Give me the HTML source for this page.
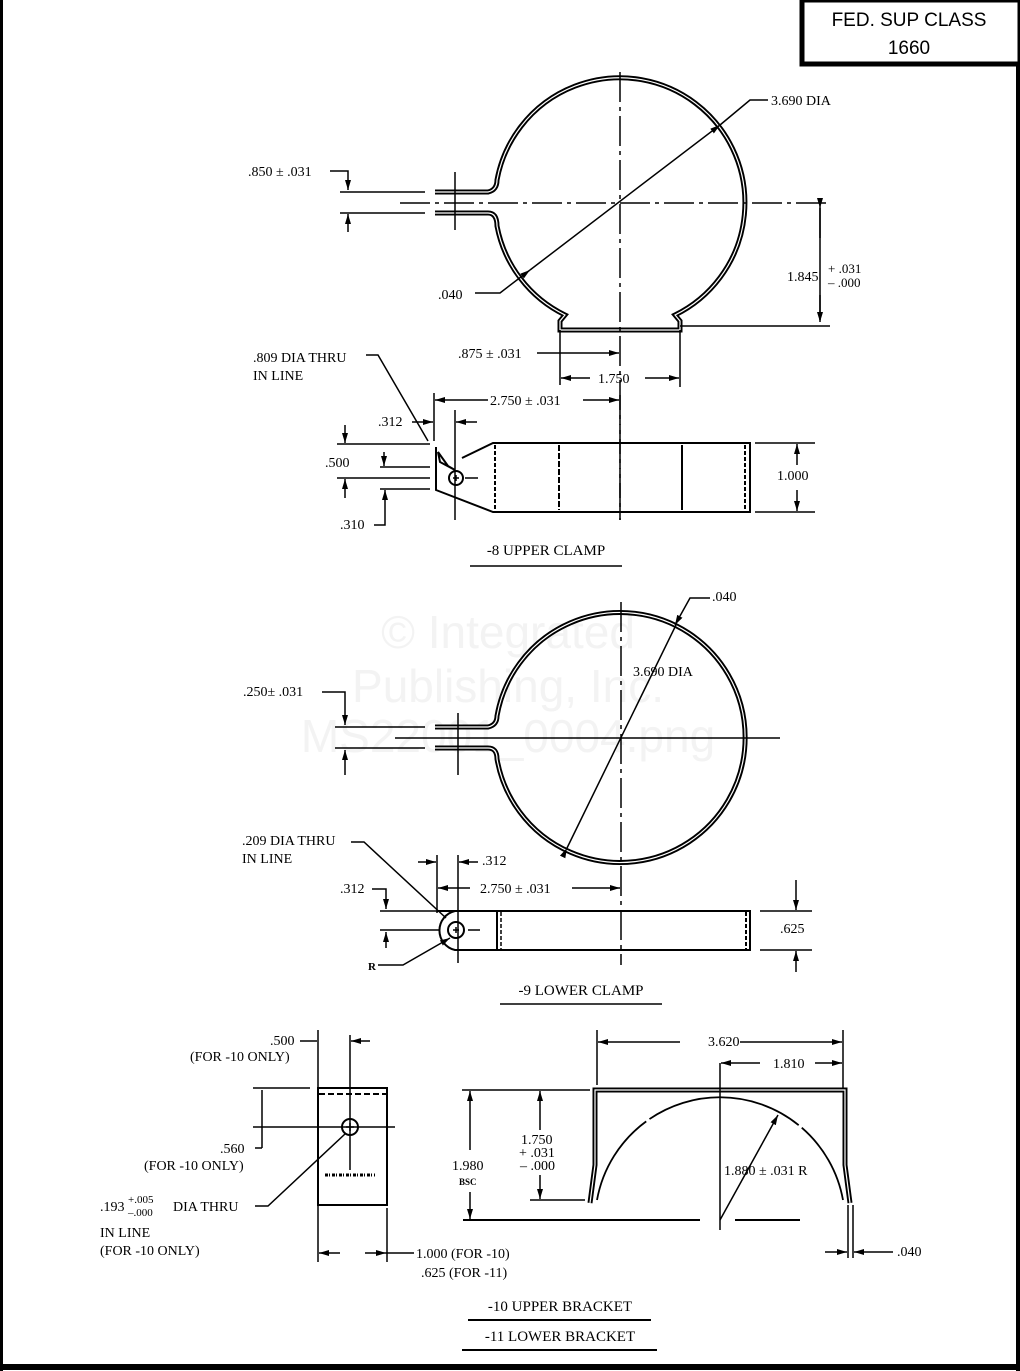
<!DOCTYPE html>
<html><head><meta charset="utf-8"><style>
html,body{margin:0;padding:0;background:#fff}
svg{display:block}
text{font-family:"Liberation Serif",serif;font-size:14px;fill:#000}
.s{font-family:"Liberation Sans",sans-serif;font-size:19px}
.wm{font-family:"Liberation Sans",sans-serif;font-size:46px;fill:#f3f3f3}
</style></head><body>
<svg width="1020" height="1371" viewBox="0 0 1020 1371" xmlns="http://www.w3.org/2000/svg">
<defs>
<marker id="a" viewBox="0 0 10 6" refX="10" refY="3" markerWidth="10" markerHeight="6" orient="auto" markerUnits="userSpaceOnUse"><path d="M0,0L10,3L0,6z" fill="#000"/></marker>
</defs>
<rect x="0" y="0" width="3" height="1371" fill="#000"/>
<rect x="1016" y="0" width="4" height="1371" fill="#000"/>
<rect x="0" y="1364" width="1020" height="6" fill="#000"/>
<rect x="802" y="0" width="218" height="64" fill="#fff" stroke="#000" stroke-width="5"/>
<text class="s" x="909" y="26" text-anchor="middle">FED. SUP CLASS</text>
<text class="s" x="909" y="54" text-anchor="middle">1660</text>

<text class="wm" x="508" y="648" text-anchor="middle">© Integrated</text>
<text class="wm" x="508" y="702" text-anchor="middle">Publishing, Inc.</text>
<text class="wm" x="508" y="752" text-anchor="middle">MS22001_0004.png</text>

<g fill="none" stroke="#000" stroke-width="1.5">
<path d="M435,192 L488,192 Q497,190 497,180 A125,125 0 1 1 675,315 L680,321 L680,330 L560,330 L560,321 L565,315 A125,125 0 0 1 497,226 Q497,213 488,213 L435,213" stroke-width="5"/>
<path d="M435,192 L488,192 Q497,190 497,180 A125,125 0 1 1 675,315 L680,321 L680,330 L560,330 L560,321 L565,315 A125,125 0 0 1 497,226 Q497,213 488,213 L435,213" stroke="#fff" stroke-width="1.2"/>
<line x1="620" y1="72" x2="620" y2="520" stroke-dasharray="30,5,4,5"/>
<line x1="400" y1="203" x2="830" y2="203" stroke-dasharray="30,5,4,5"/>
<line x1="455" y1="172" x2="455" y2="230"/>
<line x1="530" y1="270" x2="720" y2="125" marker-start="url(#a)" marker-end="url(#a)"/>
<path d="M720,125 L750,100 L768,100"/>
<path d="M475,293 L500,293 L530,270"/>
<path d="M330,171 L348,171 L348,190" marker-end="url(#a)"/>
<line x1="340" y1="192" x2="425" y2="192"/>
<line x1="340" y1="213" x2="425" y2="213"/>
<line x1="348" y1="232" x2="348" y2="214" marker-end="url(#a)"/>
<line x1="680" y1="326" x2="830" y2="326"/>
<line x1="820" y1="208" x2="820" y2="238" marker-start="url(#a)"/>
<line x1="820" y1="295" x2="820" y2="322" marker-end="url(#a)"/>
<line x1="820" y1="205" x2="820" y2="320"/>
<line x1="560" y1="330" x2="560" y2="385"/>
<line x1="680" y1="330" x2="680" y2="387"/>
<path d="M537,353 L619,353" marker-end="url(#a)"/>
<line x1="590" y1="378" x2="561" y2="378" marker-end="url(#a)"/>
<line x1="645" y1="378" x2="679" y2="378" marker-end="url(#a)"/>
<path d="M436,447 L436,490 L493,512 L750,512 L750,443 L493,443 L462,458" stroke-width="2"/>
<path d="M438,452 L448,466 L455,470 L440,462 z" stroke-width="2"/>
<circle cx="456" cy="478" r="7" stroke-width="2"/>
<path d="M453,478h6M456,475v6"/>
<line x1="495" y1="445" x2="495" y2="510" stroke-dasharray="4,2" stroke-width="2"/>
<line x1="559" y1="445" x2="559" y2="510" stroke-dasharray="6,2" stroke-width="2"/>
<line x1="682" y1="445" x2="682" y2="510" stroke-width="2"/>
<line x1="745" y1="445" x2="745" y2="510" stroke-dasharray="4,2" stroke-width="2"/>
<line x1="620" y1="395" x2="620" y2="520" stroke-dasharray="30,5,4,5"/>
<line x1="434" y1="393" x2="434" y2="441"/>
<line x1="455" y1="410" x2="455" y2="520"/>
<line x1="337" y1="444" x2="430" y2="444"/>
<line x1="337" y1="478" x2="430" y2="478"/>
<line x1="465" y1="478" x2="478" y2="478"/>
<line x1="380" y1="467" x2="430" y2="467"/>
<line x1="380" y1="489" x2="430" y2="489"/>
<line x1="345" y1="425" x2="345" y2="443" marker-end="url(#a)"/>
<line x1="345" y1="498" x2="345" y2="479" marker-end="url(#a)"/>
<line x1="384" y1="452" x2="384" y2="466" marker-end="url(#a)"/>
<path d="M374,525 L385,525 L385,490" marker-end="url(#a)"/>
<line x1="488" y1="400" x2="435" y2="400" marker-end="url(#a)"/>
<line x1="583" y1="400" x2="619" y2="400" marker-end="url(#a)"/>
<line x1="412" y1="422" x2="433" y2="422" marker-end="url(#a)"/>
<line x1="477" y1="422" x2="456" y2="422" marker-end="url(#a)"/>
<path d="M366,355 L378,355 L428,441"/>
<line x1="755" y1="443" x2="815" y2="443"/>
<line x1="755" y1="512" x2="815" y2="512"/>
<line x1="797" y1="465" x2="797" y2="444" marker-end="url(#a)"/>
<line x1="797" y1="490" x2="797" y2="511" marker-end="url(#a)"/>
<line x1="470" y1="566" x2="622" y2="566"/>

<path d="M435,727 L488,727 Q497,725 497,716 A125,125 0 1 1 497,759 Q497,748 488,748 L435,748" stroke-width="5"/>
<path d="M435,727 L488,727 Q497,725 497,716 A125,125 0 1 1 497,759 Q497,748 488,748 L435,748" stroke="#fff" stroke-width="1.2"/>
<line x1="395" y1="738" x2="780" y2="738"/>
<line x1="621" y1="602" x2="621" y2="965" stroke-dasharray="30,5,4,5"/>
<line x1="458" y1="713" x2="458" y2="775"/>
<line x1="567" y1="848" x2="676" y2="625" marker-start="url(#a)"/>
<path d="M710,598 L690,598 L675,625" marker-end="url(#a)"/>
<path d="M322,692 L345,692 L345,725" marker-end="url(#a)"/>
<line x1="335" y1="727" x2="425" y2="727"/>
<line x1="335" y1="748" x2="425" y2="748"/>
<line x1="345" y1="775" x2="345" y2="750" marker-end="url(#a)"/>
<path d="M455,911 L750,911 L750,950 L455,950 A20,20 0 0 1 455,911" stroke-width="2"/>
<line x1="437" y1="911" x2="455" y2="911" stroke-width="2"/>
<circle cx="456" cy="930" r="8" stroke-width="2"/>
<path d="M453,930h6M456,927v6"/>
<line x1="497" y1="912" x2="497" y2="949" stroke-width="2"/>
<line x1="501" y1="912" x2="501" y2="949" stroke-dasharray="4,2"/>
<line x1="746" y1="912" x2="746" y2="949" stroke-dasharray="4,2" stroke-width="2"/>
<line x1="380" y1="911" x2="440" y2="911"/>
<line x1="380" y1="930" x2="440" y2="930"/>
<line x1="468" y1="930" x2="480" y2="930"/>
<path d="M372,889 L386,889 L386,909" marker-end="url(#a)"/>
<line x1="386" y1="948" x2="386" y2="932" marker-end="url(#a)"/>
<line x1="437" y1="855" x2="437" y2="913"/>
<line x1="458" y1="855" x2="458" y2="963"/>
<line x1="418" y1="862" x2="436" y2="862" marker-end="url(#a)"/>
<line x1="478" y1="862" x2="459" y2="862" marker-end="url(#a)"/>
<line x1="470" y1="888" x2="438" y2="888" marker-end="url(#a)"/>
<line x1="572" y1="888" x2="620" y2="888" marker-end="url(#a)"/>
<path d="M351,842 L364,842 L446,918"/>
<path d="M378,965 L403,965 L450,938" marker-end="url(#a)"/>
<line x1="760" y1="911" x2="812" y2="911"/>
<line x1="760" y1="950" x2="812" y2="950"/>
<line x1="796" y1="880" x2="796" y2="910" marker-end="url(#a)"/>
<line x1="796" y1="972" x2="796" y2="951" marker-end="url(#a)"/>
<line x1="500" y1="1004" x2="662" y2="1004"/>

<rect x="318" y="1088" width="69" height="117" stroke-width="2"/>
<line x1="319" y1="1094" x2="386" y2="1094" stroke-dasharray="6,3" stroke-width="2"/>
<circle cx="350" cy="1127" r="8" stroke-width="2"/>
<path d="M346,1127h8M350,1123v8"/>
<line x1="253" y1="1127" x2="395" y2="1127"/>
<line x1="350" y1="1035" x2="350" y2="1170"/>
<line x1="253" y1="1088" x2="310" y2="1088"/>
<line x1="262" y1="1090" x2="262" y2="1148"/>
<line x1="255" y1="1148" x2="262" y2="1148"/>
<line x1="318" y1="1030" x2="318" y2="1262"/>
<line x1="387" y1="1208" x2="387" y2="1262"/>
<line x1="300" y1="1041" x2="317" y2="1041"/>
<line x1="370" y1="1041" x2="351" y2="1041" marker-end="url(#a)"/>
<line x1="340" y1="1253" x2="319" y2="1253" marker-end="url(#a)"/>
<line x1="365" y1="1253" x2="386" y2="1253" marker-end="url(#a)"/>
<line x1="386" y1="1253" x2="414" y2="1253"/>
<path d="M255,1206 L268,1206 L345,1134"/>
<path d="M325,1175 h50" stroke-dasharray="3,1,1,2" stroke-width="3"/>

<path d="M590,1203 L595,1165 L595,1090 L845,1090 L845,1165 L850,1203" stroke-width="5"/>
<path d="M590,1203 L595,1165 L595,1090 L845,1090 L845,1165 L850,1203" stroke="#fff" stroke-width="1.2"/>
<path d="M597,1200 A125,125 0 0 1 843,1200" stroke-dasharray="95,4,160,4,300" stroke-width="1.8"/>
<line x1="720" y1="1063" x2="720" y2="1230"/>
<line x1="463" y1="1220" x2="700" y2="1220" stroke-width="2"/>
<line x1="735" y1="1220" x2="800" y2="1220" stroke-width="2"/>
<line x1="462" y1="1090" x2="590" y2="1090"/>
<line x1="530" y1="1200" x2="585" y2="1200"/>
<line x1="470" y1="1150" x2="470" y2="1091" marker-end="url(#a)"/>
<line x1="470" y1="1192" x2="470" y2="1219" marker-end="url(#a)"/>
<line x1="540" y1="1130" x2="540" y2="1091" marker-end="url(#a)"/>
<line x1="540" y1="1175" x2="540" y2="1199" marker-end="url(#a)"/>
<line x1="597" y1="1030" x2="597" y2="1085"/>
<line x1="843" y1="1030" x2="843" y2="1088"/>
<line x1="680" y1="1042" x2="598" y2="1042" marker-end="url(#a)"/>
<line x1="740" y1="1042" x2="842" y2="1042" marker-end="url(#a)"/>
<line x1="760" y1="1063" x2="721" y2="1063" marker-end="url(#a)"/>
<line x1="815" y1="1063" x2="842" y2="1063" marker-end="url(#a)"/>
<line x1="720" y1="1220" x2="778" y2="1115" marker-end="url(#a)"/>
<line x1="848" y1="1205" x2="848" y2="1258"/>
<line x1="853" y1="1205" x2="853" y2="1258"/>
<line x1="825" y1="1252" x2="847" y2="1252" marker-end="url(#a)"/>
<line x1="893" y1="1252" x2="854" y2="1252" marker-end="url(#a)"/>
<line x1="468" y1="1320" x2="651" y2="1320" stroke-width="2"/>
<line x1="462" y1="1350" x2="657" y2="1350" stroke-width="2"/>
</g>

<text x="771" y="105">3.690 DIA</text>
<text x="248" y="176">.850 ± .031</text>
<text x="438" y="299">.040</text>
<text x="787" y="281">1.845</text>
<text x="828" y="273" style="font-size:13px">+ .031</text>
<text x="828" y="287" style="font-size:13px">– .000</text>
<text x="458" y="358">.875 ± .031</text>
<text x="598" y="383">1.750</text>
<text x="253" y="362">.809 DIA THRU</text>
<text x="253" y="380">IN LINE</text>
<text x="490" y="405">2.750 ± .031</text>
<text x="378" y="426">.312</text>
<text x="325" y="467">.500</text>
<text x="340" y="529">.310</text>
<text x="777" y="480">1.000</text>
<text x="546" y="555" text-anchor="middle" style="font-size:15px">-8 UPPER CLAMP</text>
<text x="712" y="601">.040</text>
<text x="633" y="676">3.690 DIA</text>
<text x="243" y="696">.250± .031</text>
<text x="242" y="845">.209 DIA THRU</text>
<text x="242" y="863">IN LINE</text>
<text x="482" y="865">.312</text>
<text x="340" y="893">.312</text>
<text x="480" y="893">2.750 ± .031</text>
<text x="780" y="933">.625</text>
<text x="368" y="970" style="font-size:11px;font-weight:bold">R</text>
<text x="581" y="995" text-anchor="middle" style="font-size:15px">-9 LOWER CLAMP</text>
<text x="270" y="1045">.500</text>
<text x="190" y="1061">(FOR -10 ONLY)</text>
<text x="220" y="1153">.560</text>
<text x="144" y="1170">(FOR -10 ONLY)</text>
<text x="100" y="1211">.193</text>
<text x="128" y="1203" style="font-size:11px">+.005</text>
<text x="128" y="1216" style="font-size:11px">–.000</text>
<text x="173" y="1211">DIA THRU</text>
<text x="100" y="1237">IN LINE</text>
<text x="100" y="1255">(FOR -10 ONLY)</text>
<text x="416" y="1258">1.000 (FOR -10)</text>
<text x="421" y="1277">.625 (FOR -11)</text>
<text x="708" y="1046">3.620</text>
<text x="773" y="1068">1.810</text>
<text x="452" y="1170">1.980</text>
<text x="459" y="1185" style="font-size:9px;font-weight:bold">BSC</text>
<text x="521" y="1144">1.750</text>
<text x="519" y="1157">+ .031</text>
<text x="520" y="1170">– .000</text>
<text x="724" y="1175">1.880 ± .031 R</text>
<text x="897" y="1256">.040</text>
<text x="560" y="1311" text-anchor="middle" style="font-size:15px">-10 UPPER BRACKET</text>
<text x="560" y="1341" text-anchor="middle" style="font-size:15px">-11 LOWER BRACKET</text>
</svg>
</body></html>
